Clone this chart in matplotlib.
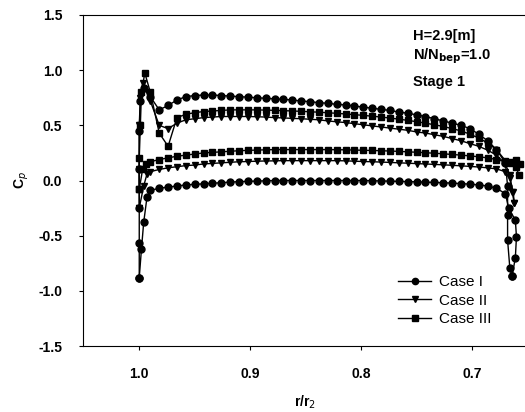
import matplotlib
matplotlib.use('Agg')
import matplotlib.pyplot as plt

plt.rcParams['font.family'] = ['Liberation Sans', 'DejaVu Sans']

# common r/r2 stations along the blade (leading edge -> trailing edge)
r_mid = [0.990, 0.982, 0.974, 0.966, 0.958, 0.950, 0.942, 0.934, 0.926, 0.918,
         0.910, 0.902, 0.894, 0.886, 0.878, 0.870, 0.862, 0.854, 0.846, 0.838,
         0.830, 0.822, 0.814, 0.806, 0.798, 0.790, 0.782, 0.774, 0.766, 0.758,
         0.750, 0.742, 0.734, 0.726, 0.718, 0.710, 0.702, 0.694, 0.686, 0.678,
         0.670]

# Case I
cp1_up = [0.76, 0.64, 0.68, 0.73, 0.76, 0.77, 0.775, 0.775, 0.77, 0.765,
          0.76, 0.755, 0.75, 0.745, 0.74, 0.735, 0.73, 0.72, 0.715, 0.705,
          0.70, 0.69, 0.685, 0.675, 0.665, 0.655, 0.645, 0.635, 0.62, 0.61,
          0.595, 0.58, 0.56, 0.54, 0.52, 0.50, 0.47, 0.42, 0.36, 0.28,
          0.16]
cp1_lo = [-0.09, -0.07, -0.06, -0.05, -0.04, -0.035, -0.03, -0.025, -0.02, -0.015,
          -0.01, -0.008, -0.005, -0.003, 0.0, 0.0, 0.0, 0.0, 0.0, 0.0,
          0.0, 0.0, 0.0, 0.0, 0.0, -0.002, -0.004, -0.006, -0.008, -0.01,
          -0.012, -0.015, -0.018, -0.02, -0.024, -0.028, -0.033, -0.04, -0.05, -0.07,
          -0.12]
le1_up_r = [1.000, 1.000, 1.000, 1.000, 1.000, 0.999, 0.996]
le1_up_cp = [-0.88, -0.57, -0.25, 0.10, 0.45, 0.72, 0.84]
le1_lo_r = [1.000, 0.998, 0.996, 0.993]
le1_lo_cp = [-0.88, -0.62, -0.38, -0.15]
te1_up_r = [0.668, 0.668, 0.668, 0.666, 0.664]
te1_up_cp = [-0.05, -0.31, -0.54, -0.79, -0.87]
te1_lo_r = [0.667, 0.661, 0.660, 0.661, 0.664]
te1_lo_cp = [-0.25, -0.36, -0.51, -0.70, -0.87]

# Case II
cp2_up = [0.72, 0.50, 0.47, 0.52, 0.55, 0.56, 0.57, 0.575, 0.58, 0.58,
          0.58, 0.58, 0.578, 0.575, 0.57, 0.567, 0.563, 0.56, 0.555, 0.55,
          0.54, 0.532, 0.525, 0.515, 0.505, 0.495, 0.485, 0.475, 0.465, 0.455,
          0.44, 0.43, 0.415, 0.40, 0.38, 0.36, 0.335, 0.31, 0.275, 0.23,
          0.15]
cp2_lo = [0.08, 0.10, 0.115, 0.125, 0.135, 0.14, 0.15, 0.155, 0.16, 0.165,
          0.17, 0.172, 0.175, 0.177, 0.178, 0.18, 0.18, 0.18, 0.18, 0.18,
          0.18, 0.18, 0.178, 0.175, 0.172, 0.17, 0.167, 0.164, 0.16, 0.157,
          0.153, 0.15, 0.146, 0.142, 0.138, 0.133, 0.128, 0.122, 0.115, 0.105,
          0.08]
le2_up_r = [1.000, 1.000, 1.000, 0.999, 0.997]
le2_up_cp = [-0.25, 0.10, 0.50, 0.75, 0.88]
le2_lo_r = [1.000, 0.996, 0.993]
le2_lo_cp = [-0.25, -0.05, 0.06]
te2_up_r = [0.666, 0.664, 0.662]
te2_up_cp = [0.05, -0.10, -0.20]
te2_lo_r = [0.666, 0.663, 0.662]
te2_lo_cp = [0.02, -0.10, -0.20]

# Case III
cp3_up = [0.80, 0.43, 0.31, 0.57, 0.60, 0.615, 0.625, 0.63, 0.635, 0.64,
          0.64, 0.64, 0.64, 0.638, 0.636, 0.633, 0.63, 0.627, 0.623, 0.619,
          0.614, 0.609, 0.603, 0.597, 0.59, 0.583, 0.575, 0.566, 0.556, 0.545,
          0.533, 0.52, 0.505, 0.49, 0.47, 0.45, 0.42, 0.385, 0.34, 0.28,
          0.18]
cp3_lo = [0.17, 0.19, 0.205, 0.22, 0.23, 0.24, 0.25, 0.255, 0.26, 0.265,
          0.27, 0.273, 0.276, 0.278, 0.28, 0.28, 0.28, 0.28, 0.28, 0.28,
          0.28, 0.279, 0.278, 0.276, 0.274, 0.272, 0.27, 0.267, 0.264, 0.26,
          0.256, 0.252, 0.247, 0.242, 0.236, 0.23, 0.223, 0.215, 0.205, 0.19,
          0.17]
le3_up_r = [1.000, 1.000, 0.999, 0.998, 0.995]
le3_up_cp = [-0.08, 0.20, 0.50, 0.80, 0.975]
le3_lo_r = [1.000, 0.997, 0.994]
le3_lo_cp = [-0.08, 0.10, 0.15]
te3_up_r = [0.665, 0.660, 0.657]
te3_up_cp = [0.17, 0.19, 0.15]
te3_lo_r = [0.665, 0.660, 0.658]
te3_lo_cp = [0.16, 0.12, 0.05]

cases = [
    ('Case I', 'o', le1_up_r, le1_up_cp, cp1_up, te1_up_r, te1_up_cp,
     le1_lo_r, le1_lo_cp, cp1_lo, te1_lo_r, te1_lo_cp),
    ('Case II', 'v', le2_up_r, le2_up_cp, cp2_up, te2_up_r, te2_up_cp,
     le2_lo_r, le2_lo_cp, cp2_lo, te2_lo_r, te2_lo_cp),
    ('Case III', 's', le3_up_r, le3_up_cp, cp3_up, te3_up_r, te3_up_cp,
     le3_lo_r, le3_lo_cp, cp3_lo, te3_lo_r, te3_lo_cp),
]

fig = plt.figure(figsize=(5.25, 4.12), dpi=100)
ax = fig.add_axes([83 / 525, 66 / 412, 444 / 525, 331 / 412])

for (name, mk, lur, lucp, cup, tur, tucp, llr, llcp, clo, tlr, tlcp) in cases:
    ax.plot(lur + r_mid + tur, lucp + cup + tucp, color='black', lw=1.0,
            marker=mk, ms=5, label=name)
    ax.plot(llr + r_mid + tlr, llcp + clo + tlcp, color='black', lw=1.0,
            marker=mk, ms=5)

ax.set_xlim(1.0507, 0.6505)
ax.set_ylim(-1.5, 1.5)
ax.set_xticks([1.0, 0.9, 0.8, 0.7])
ax.set_xticklabels(['1.0', '0.9', '0.8', '0.7'])
ax.set_yticks([-1.5, -1.0, -0.5, 0.0, 0.5, 1.0, 1.5])
ax.set_yticklabels(['-1.5', '-1.0', '-0.5', '0.0', '0.5', '1.0', '1.5'])
ax.tick_params(direction='out', length=3, width=0.8, pad=12, labelsize=10)
for lab in ax.get_xticklabels() + ax.get_yticklabels():
    lab.set_fontweight('bold')

ax.set_xlabel('r/r$_2$', fontsize=10, fontweight='bold', labelpad=9)
ax.set_ylabel('C$_p$', fontsize=10, fontweight='bold', labelpad=5)

ax.text(0.743, 0.937, 'H=2.9[m]', transform=ax.transAxes, fontsize=10.5,
        fontweight='bold', va='center')
ax.text(0.743, 0.876, 'N/N$_{\\mathbf{bep}}$=1.0', transform=ax.transAxes,
        fontsize=10.5, fontweight='bold', va='center')
ax.text(0.743, 0.799, 'Stage 1', transform=ax.transAxes, fontsize=10.5,
        fontweight='bold', va='center')

ax.legend(loc='lower left', bbox_to_anchor=(0.709, 0.06), frameon=False,
          fontsize=11, handlelength=2.2, labelspacing=0.3, handletextpad=0.5,
          borderpad=0, borderaxespad=0, markerscale=0.9)

fig.savefig('out.png', dpi=100)
